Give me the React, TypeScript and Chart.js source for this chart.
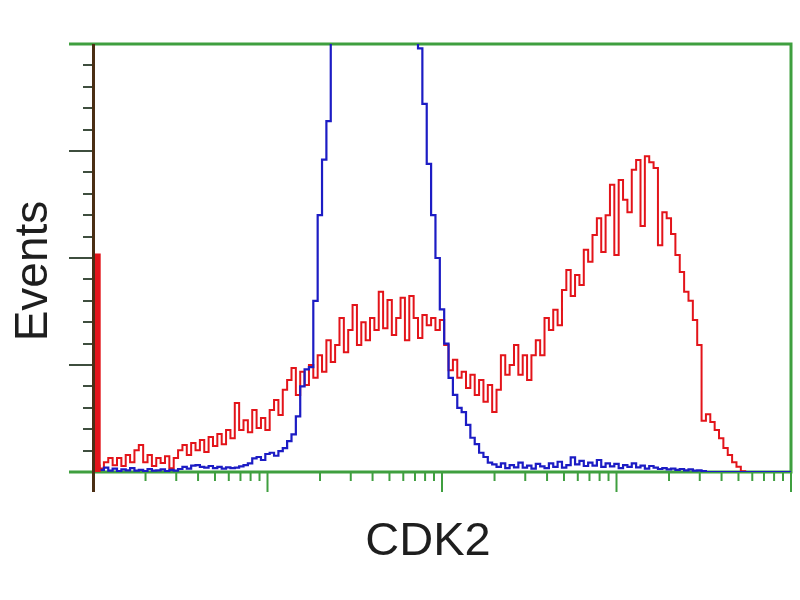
import React, { useEffect, useRef } from "react";
import { Chart, registerables } from "chart.js";

Chart.register(...registerables);

// x axis: 4 log decades, one channel every 0.025 decade
const DECADES = 4;
const STEP = 0.025;

const RED = [
  1.5, 1.5, 0.8, 2.3, 3.3, 1.6, 3.3, 1.4, 4.0, 2.3,
  5.1, 6.3, 2.3, 4.0, 1.4, 3.3, 2.1, 3.7, 0.9, 3.3,
  5.1, 6.3, 4.0, 6.8, 5.1, 7.5, 4.7, 8.2, 6.1, 8.9,
  6.5, 9.8, 7.9, 16.1, 9.8, 12.1, 9.3, 14.5, 10.3, 12.6,
  9.8, 14.5, 16.8, 13.3, 19.2, 21.5, 24.3, 18.0, 23.4, 20.3,
  25.0, 22.0, 27.3, 23.4, 30.8, 25.7, 29.7, 36.0, 28.0, 33.2,
  39.0, 29.7, 35.0, 30.8, 36.0, 33.2, 42.1, 33.6, 40.2, 32.0,
  36.0, 40.7, 30.8, 41.1, 36.0, 31.3, 36.7, 34.3, 36.0, 33.2,
  35.5, 29.7, 23.8, 26.2, 22.0, 23.4, 19.6, 22.7, 18.0, 21.5,
  16.4, 20.3, 14.0, 19.2, 27.3, 22.7, 25.0, 29.7, 22.7, 27.3,
  21.5, 27.3, 30.8, 27.3, 36.0, 33.2, 37.9, 34.3, 42.5, 47.2,
  41.1, 46.0, 43.7, 51.9, 49.1, 55.4, 59.3, 51.4, 60.0, 67.1,
  50.7, 68.2, 63.6, 60.7, 70.6, 72.9, 57.5, 73.8, 72.4, 71.0,
  53.0, 60.7, 59.3, 55.6, 50.7, 46.7, 42.1, 40.0, 35.5, 29.7,
  12.0, 13.5, 11.7, 9.8, 7.9, 5.6, 4.0, 2.3, 1.2, 0.2,
  0, 0, 0, 0, 0, 0, 0, 0, 0, 0, 0,
];

// the tall first-channel spike of the red histogram
const SPIKE_CHANNELS = [1];
const SPIKE_VALUES = [51];

const BLUE = [
  2.0, 0.5, 0.5, 1.0, 0.3, 0.8, 0.2, 0.6, 0.4, 0.9,
  0.3, 0.5, 0.2, 0.7, 0.3, 0.4, 0.6, 0.2, 0.5, 0.3,
  0.7, 1.2, 0.8, 1.5, 1.6, 1.2, 1.0, 1.4, 0.9, 1.2,
  0.8, 1.1, 0.9, 1.0, 1.3, 1.6, 2.0, 3.2, 3.5, 2.8,
  4.2, 4.5, 3.8, 4.9, 5.6, 7.2, 8.8, 13.0, 20.0, 24.0,
  24.5, 40.0, 60.0, 73.0, 82.0, 110, 125, 135, 142, 148,
  150, 152, 150, 148, 145, 140, 135, 130, 125, 120,
  115, 110, 106, 103, 104, 99, 86, 72, 60, 50,
  38, 30, 22, 18, 15, 14, 11, 8, 6.5, 4.5,
  3.5, 2.2, 1.8, 1.2, 2.0, 0.9, 1.6, 1.1, 2.2, 1.0,
  1.5, 0.8, 1.9, 1.3, 0.9, 2.0, 1.2, 2.4, 1.0, 1.6,
  3.4, 1.8, 2.6, 1.4, 2.2, 1.5, 2.8, 1.2, 2.0, 1.3,
  1.9, 0.9, 1.6, 1.2, 2.0, 1.1, 1.5, 0.8, 1.4, 1.0,
  0.7, 0.9, 0.6, 0.8, 0.5, 0.7, 0.4, 0.6, 0.3, 0.4,
  0.2, 0, 0, 0, 0, 0, 0, 0, 0, 0,
  0, 0, 0, 0, 0, 0, 0, 0, 0, 0, 0,
];

const Y_MAJOR = [0, 25, 50, 75, 100];
const Y_MINOR_STEP = 5;
const X_MAJOR = [0, 1, 2, 3, 4];
const X_MINOR = [2, 3, 4, 5, 6, 7, 8, 9];
const X_TITLE = "CDK2";
const Y_TITLE = "Events";

const GREEN = "#3f9f3f";
const RED_COLOR = "#e3141a";
const BLUE_COLOR = "#1c1cc4";

const toPoints = (arr: number[]) => arr.map((v, i) => ({ x: i * STEP, y: v }));

const framePlugin = {
  id: "frame",
  beforeDatasetsDraw(chart: any) {
    const { ctx, chartArea: a, scales } = chart;
    const xs = scales.x;
    const ys = scales.y;
    ctx.save();
    // y ticks
    ctx.strokeStyle = "#3e4e3e";
    ctx.lineWidth = 2;
    for (let v = 0; v <= 100; v += Y_MINOR_STEP) {
      const y = Math.round(ys.getPixelForValue(v));
      const major = Y_MAJOR.includes(v);
      ctx.beginPath();
      ctx.moveTo(a.left - (major ? 24 : 10), y);
      ctx.lineTo(a.left, y);
      ctx.stroke();
    }
    // x ticks (log)
    ctx.strokeStyle = GREEN;
    ctx.lineWidth = 2;
    X_MAJOR.forEach((d) => {
      const x = xs.getPixelForValue(d);
      ctx.beginPath();
      ctx.moveTo(x, a.bottom);
      ctx.lineTo(x, a.bottom + 20);
      ctx.stroke();
      if (d < DECADES) {
        X_MINOR.forEach((k) => {
          const xm = xs.getPixelForValue(d + Math.log10(k));
          ctx.beginPath();
          ctx.moveTo(xm, a.bottom);
          ctx.lineTo(xm, a.bottom + 9);
          ctx.stroke();
        });
      }
    });
    // frame: top, right, bottom
    ctx.lineWidth = 3;
    ctx.strokeStyle = GREEN;
    ctx.beginPath();
    ctx.moveTo(a.left - 24, a.bottom);
    ctx.lineTo(a.right, a.bottom);
    ctx.lineTo(a.right, a.top);
    ctx.lineTo(a.left - 24, a.top);
    ctx.stroke();
    ctx.restore();
  },
  afterDatasetsDraw(chart: any) {
    const { ctx, chartArea: a } = chart;
    ctx.save();
    ctx.strokeStyle = "#4a2e14";
    ctx.lineWidth = 3;
    ctx.beginPath();
    ctx.moveTo(a.left + 0.5, a.top);
    ctx.lineTo(a.left + 0.5, a.bottom + 20);
    ctx.stroke();
    ctx.restore();
  },
  afterDraw(chart: any) {
    const { ctx } = chart;
    ctx.save();
    ctx.fillStyle = "#1e1e1e";
    ctx.font = "47px 'Liberation Sans', Arial, sans-serif";
    ctx.textAlign = "center";
    ctx.textBaseline = "alphabetic";
    ctx.fillText(X_TITLE, 428, 555);
    ctx.font = "46px 'Liberation Sans', Arial, sans-serif";
    ctx.translate(47, 271);
    ctx.rotate(-Math.PI / 2);
    ctx.fillText(Y_TITLE, 0, 0);
    ctx.restore();
  },
};

export default function App() {
  const ref = useRef<HTMLCanvasElement | null>(null);
  useEffect(() => {
    if (!ref.current) return;
    const chart = new Chart(ref.current, {
      type: "line",
      data: {
        datasets: [
          {
            type: "bar",
            label: "spike",
            data: SPIKE_CHANNELS.map((c, i) => ({ x: c * STEP, y: SPIKE_VALUES[i] })),
            backgroundColor: RED_COLOR,
            borderWidth: 0,
            barThickness: 6,
            grouped: false,
          } as any,
          {
            label: "control",
            data: toPoints(BLUE),
            borderColor: BLUE_COLOR,
            borderWidth: 2.2,
            pointRadius: 0,
            tension: 0,
            stepped: "middle",
          },
          {
            label: "CDK2",
            data: toPoints(RED),
            borderColor: RED_COLOR,
            borderWidth: 2,
            pointRadius: 0,
            tension: 0,
            stepped: "middle",
          },
        ],
      },
      options: {
        responsive: false,
        animation: false,
        layout: { padding: { left: 93, right: 9, top: 44, bottom: 128 } },
        plugins: { legend: { display: false }, tooltip: { enabled: false } },
        scales: {
          x: { type: "linear", min: 0, max: DECADES, display: false, offset: false },
          y: { type: "linear", min: 0, max: 100, display: false },
        },
      },
      plugins: [framePlugin],
    });
    return () => chart.destroy();
  }, []);
  return (
    <div style={{ position: "absolute", left: 0, top: 0, width: 800, height: 600, background: "#fff" }}>
      <canvas ref={ref} width={800} height={600} />
    </div>
  );
}
